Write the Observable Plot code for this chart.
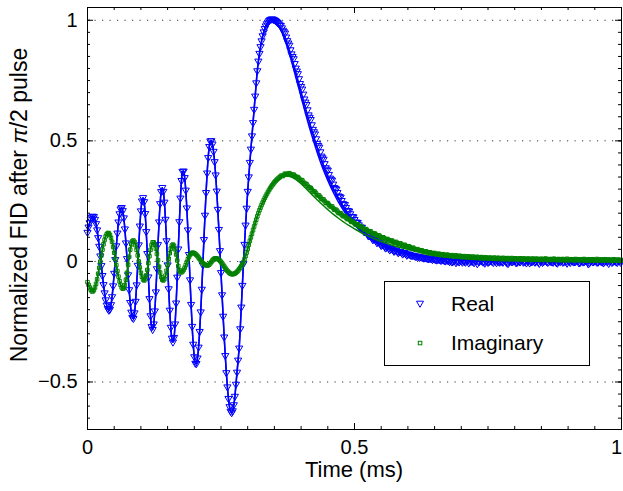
<!DOCTYPE html>
<html><head><meta charset="utf-8">
<script src="https://cdn.jsdelivr.net/npm/d3@7"></script>
<script src="https://cdn.jsdelivr.net/npm/@observablehq/plot@0.6"></script>
<style>
body{margin:0;background:#fff;}
#wrap{position:relative;width:623px;height:491px;font-family:"Liberation Sans",Arial,Helvetica,sans-serif;}
#legend{position:absolute;left:384px;top:281px;width:206px;height:85px;border:1px solid #000;background:#fff;box-sizing:border-box;}
#legend .item{position:absolute;left:0;height:30px;width:200px;}
#legend svg{position:absolute;left:25px;top:5px;}
#legend span{position:absolute;left:66px;top:2px;font-size:21px;line-height:26px;color:#000;}
</style></head>
<body>
<div id="wrap"><div id="chart"></div>
<div id="legend">
  <div class="item" style="top:7px"><svg width="20" height="20"><path d="M6.5,7.2L13.5,7.2L10,13.3Z" fill="none" stroke="#0000ff" stroke-width="1"/></svg><span>Real</span></div>
  <div class="item" style="top:46px"><svg width="20" height="20"><rect x="8.3" y="8.3" width="3.5" height="3.5" fill="none" stroke="#008000" stroke-width="1"/></svg><span>Imaginary</span></div>
</div>
</div>
<script>
// sample grid of the measured FID (ms): even samples at t0 + i*dt, odd samples half a step later
const t0 = 0, dt = 0.004;
// Real part (normalized), even samples t = 0 ... 1 ms
const realValues = [
 0.120, 0.160, 0.183, 0.185, 0.156, 0.098, 0.022,-0.059,-0.131,-0.182,
-0.203,-0.180,-0.102, 0.007, 0.117, 0.197, 0.223, 0.180, 0.076,-0.056,
-0.171,-0.233,-0.214,-0.098, 0.068, 0.209, 0.264, 0.198, 0.032,-0.155,
-0.271,-0.260,-0.127, 0.069, 0.239, 0.306, 0.245, 0.085,-0.114,-0.274,
-0.335,-0.260,-0.066, 0.164, 0.335, 0.374, 0.295, 0.130,-0.077,-0.270,
-0.396,-0.424,-0.356,-0.210,-0.015, 0.191, 0.366, 0.476, 0.500, 0.456,
 0.358, 0.215, 0.044,-0.139,-0.314,-0.462,-0.569,-0.622,-0.620,-0.560,
-0.460,-0.360,-0.190,-0.010, 0.150, 0.290, 0.410, 0.520, 0.630, 0.740,
 0.830, 0.890, 0.935, 0.965, 0.985, 0.998, 1.004, 1.003, 0.998, 0.990,
 0.980, 0.968, 0.952, 0.930, 0.905, 0.877, 0.849, 0.820, 0.789, 0.757,
 0.725, 0.693, 0.660, 0.628, 0.597, 0.566, 0.537, 0.508, 0.480, 0.454,
 0.429, 0.405, 0.382, 0.360, 0.340, 0.320, 0.302, 0.285, 0.268, 0.252,
 0.237, 0.223, 0.210, 0.197, 0.185, 0.173, 0.162, 0.151, 0.141, 0.131,
 0.122, 0.114, 0.106, 0.098, 0.091, 0.085, 0.079, 0.073, 0.068, 0.063,
 0.058, 0.054, 0.051, 0.047, 0.045, 0.041, 0.039, 0.036, 0.033, 0.031,
 0.029, 0.027, 0.024, 0.023, 0.020, 0.019, 0.018, 0.015, 0.015, 0.012,
 0.012, 0.010, 0.011, 0.007, 0.008, 0.006, 0.007, 0.003, 0.005, 0.002,
 0.004,-0.002, 0.003, 0.001,-0.003, 0.002, 0.001,-0.004, 0.003,-0.002,
 0.000,-0.006, 0.002,-0.001, 0.004,-0.003,-0.008, 0.001,-0.002, 0.003,
-0.005, 0.000, 0.002,-0.004,-0.001, 0.005,-0.003,-0.009, 0.001,-0.002,
 0.002,-0.006, 0.000, 0.003,-0.004,-0.001, 0.002,-0.007,-0.002, 0.004,
 0.000,-0.003, 0.001,-0.005, 0.002,-0.002, 0.006,-0.001,-0.004, 0.001,
-0.008, 0.000, 0.003,-0.003,-0.001, 0.002,-0.005, 0.001,-0.002, 0.004,
-0.006, 0.000,-0.003, 0.002,-0.001,-0.007, 0.003,-0.002, 0.001,-0.004,
 0.005,-0.001,-0.003, 0.000,-0.009, 0.002,-0.002, 0.001,-0.005, 0.003,
-0.001];
// Real part, odd samples t = 0.002 ... 0.998 ms
const realValuesOdd = [
 0.142, 0.175, 0.187, 0.174, 0.130, 0.062,-0.018,-0.097,-0.160,-0.196,
-0.199,-0.147,-0.050, 0.064, 0.163, 0.217, 0.210, 0.134, 0.011,-0.118,
-0.211,-0.237,-0.166,-0.017, 0.146, 0.250, 0.247, 0.123,-0.065,-0.226,
-0.283,-0.206,-0.031, 0.163, 0.289, 0.290, 0.174,-0.015,-0.203,-0.319,
-0.316,-0.173, 0.051, 0.262, 0.373, 0.347, 0.221, 0.028,-0.179,-0.344,
-0.423,-0.401,-0.291,-0.116, 0.090, 0.285, 0.430, 0.499, 0.486, 0.413,
 0.291, 0.132,-0.047,-0.228,-0.391,-0.521,-0.603,-0.628,-0.595,-0.510,
-0.410,-0.280,-0.100, 0.070, 0.220, 0.350, 0.465, 0.575, 0.685, 0.790,
 0.862, 0.914, 0.951, 0.976, 0.992, 1.002, 1.005, 1.001, 0.994, 0.985,
 0.978, 0.958, 0.946, 0.915, 0.896, 0.860, 0.840, 0.801, 0.778, 0.737,
 0.714, 0.673, 0.650, 0.607, 0.588, 0.547, 0.528, 0.489, 0.473, 0.436,
 0.423, 0.388, 0.377, 0.345, 0.336, 0.306, 0.299, 0.271, 0.266, 0.239,
 0.235, 0.211, 0.208, 0.186, 0.184, 0.162, 0.161, 0.141, 0.141, 0.122,
 0.123, 0.105, 0.107, 0.090, 0.093, 0.077, 0.081, 0.065, 0.070, 0.055,
 0.060, 0.047, 0.053, 0.041, 0.047, 0.035, 0.041, 0.030, 0.036, 0.025,
 0.030, 0.024, 0.025, 0.020, 0.021, 0.016, 0.017, 0.013, 0.014, 0.010,
 0.012, 0.007, 0.009, 0.005, 0.008, 0.003, 0.006, 0.001, 0.004,-0.001,
-0.003, 0.002,-0.006, 0.000, 0.003,-0.004,-0.001, 0.004,-0.007, 0.001,
-0.002, 0.002,-0.010,-0.001, 0.003,-0.003, 0.000,-0.005, 0.002,-0.002,
 0.004,-0.006,-0.001, 0.001,-0.004, 0.003,-0.008, 0.000,-0.002, 0.002,
-0.005, 0.001,-0.003, 0.005,-0.001,-0.007, 0.002,-0.002, 0.000,-0.004,
 0.003,-0.009, 0.001,-0.002, 0.004,-0.005, 0.000,-0.003, 0.002,-0.006,
 0.001,-0.001,-0.004, 0.003,-0.008, 0.000, 0.002,-0.003,-0.001, 0.004,
-0.006, 0.001,-0.002, 0.003,-0.011, 0.000,-0.003, 0.002,-0.004, 0.001,
-0.002,-0.007, 0.003,-0.001, 0.000,-0.005, 0.002,-0.003, 0.001,-0.004];
// Imaginary part (normalized), even samples
const imagValues = [
-0.086,-0.108,-0.124,-0.119,-0.093,-0.051,-0.001, 0.049, 0.089, 0.113,
 0.117, 0.098, 0.060, 0.011,-0.040,-0.082,-0.108,-0.111,-0.076,-0.014,
 0.049, 0.084, 0.081, 0.048, 0.000,-0.047,-0.075,-0.074,-0.035, 0.022,
 0.068, 0.079, 0.053, 0.005,-0.046,-0.076,-0.073,-0.039, 0.011, 0.053,
 0.070, 0.050, 0.004,-0.037,-0.045,-0.035,-0.015, 0.009, 0.027, 0.036,
 0.034, 0.027, 0.016, 0.004,-0.007,-0.014,-0.017,-0.013,-0.002, 0.009,
 0.013, 0.010, 0.003,-0.008,-0.021,-0.034,-0.044,-0.051,-0.053,-0.050,
-0.043,-0.032,-0.019,-0.003, 0.022, 0.052, 0.085, 0.115, 0.145, 0.173,
 0.200, 0.223, 0.244, 0.263, 0.280, 0.296, 0.310, 0.322, 0.333, 0.342,
 0.349, 0.355, 0.359, 0.362, 0.363, 0.362, 0.359, 0.355, 0.350, 0.344,
 0.337, 0.330, 0.322, 0.314, 0.306, 0.298, 0.290, 0.282, 0.274, 0.266,
 0.258, 0.250, 0.242, 0.235, 0.228, 0.221, 0.214, 0.207, 0.200, 0.194,
 0.188, 0.182, 0.176, 0.170, 0.164, 0.158, 0.153, 0.148, 0.143, 0.138,
 0.133, 0.128, 0.124, 0.119, 0.115, 0.111, 0.107, 0.103, 0.099, 0.095,
 0.092, 0.088, 0.085, 0.082, 0.079, 0.076, 0.073, 0.070, 0.067, 0.064,
 0.061, 0.058, 0.055, 0.052, 0.049, 0.047, 0.044, 0.042, 0.040, 0.038,
 0.036, 0.033, 0.034, 0.030, 0.031, 0.027, 0.029, 0.025, 0.027, 0.024,
 0.025, 0.022, 0.024, 0.020, 0.023, 0.019, 0.021, 0.018, 0.020, 0.017,
 0.019, 0.016, 0.018, 0.015, 0.017, 0.014, 0.016, 0.013, 0.015, 0.013,
 0.014, 0.011, 0.014, 0.012, 0.013, 0.010, 0.013, 0.011, 0.012, 0.010,
 0.012, 0.009, 0.011, 0.010, 0.012, 0.008, 0.011, 0.009, 0.010, 0.008,
 0.011, 0.008, 0.010, 0.007, 0.010, 0.008, 0.009, 0.007, 0.010, 0.008,
 0.009, 0.006, 0.009, 0.007, 0.008, 0.006, 0.009, 0.007, 0.008, 0.005,
 0.008, 0.006, 0.009, 0.006, 0.007, 0.005, 0.008, 0.006, 0.007, 0.005,
 0.007, 0.005, 0.008, 0.006, 0.007, 0.004, 0.007, 0.005, 0.006, 0.004,
 0.006];
// Imaginary part, odd samples
const imagValuesOdd = [
-0.097,-0.117,-0.124,-0.108,-0.074,-0.027, 0.025, 0.071, 0.104, 0.118,
 0.110, 0.081, 0.036,-0.015,-0.063,-0.097,-0.113,-0.098,-0.047, 0.019,
 0.071, 0.087, 0.067, 0.025,-0.025,-0.064,-0.079,-0.058,-0.007, 0.048,
 0.079, 0.070, 0.031,-0.022,-0.065,-0.079,-0.059,-0.015, 0.034, 0.066,
 0.065, 0.029,-0.019,-0.045,-0.041,-0.026,-0.003, 0.019, 0.033, 0.036,
 0.031, 0.022, 0.010,-0.001,-0.011,-0.016,-0.016,-0.008, 0.004, 0.012,
 0.012, 0.007,-0.002,-0.014,-0.027,-0.039,-0.048,-0.053,-0.052,-0.047,
-0.038,-0.026,-0.012, 0.009, 0.037, 0.069, 0.100, 0.130, 0.159, 0.187,
 0.212, 0.234, 0.254, 0.272, 0.288, 0.303, 0.316, 0.328, 0.338, 0.346,
 0.355, 0.354, 0.364, 0.360, 0.366, 0.358, 0.360, 0.350, 0.350, 0.338,
 0.337, 0.323, 0.321, 0.307, 0.305, 0.291, 0.289, 0.275, 0.273, 0.259,
 0.257, 0.243, 0.242, 0.229, 0.228, 0.215, 0.214, 0.201, 0.200, 0.188,
 0.188, 0.176, 0.176, 0.164, 0.164, 0.153, 0.154, 0.143, 0.144, 0.133,
 0.134, 0.123, 0.125, 0.114, 0.116, 0.106, 0.108, 0.098, 0.100, 0.091,
 0.093, 0.084, 0.087, 0.078, 0.081, 0.072, 0.075, 0.066, 0.069, 0.060,
 0.063, 0.054, 0.057, 0.048, 0.051, 0.043, 0.046, 0.038, 0.042, 0.034,
 0.038, 0.031, 0.035, 0.029, 0.032, 0.026, 0.030, 0.024, 0.028, 0.022,
 0.026, 0.020, 0.025, 0.019, 0.023, 0.017, 0.022, 0.016, 0.021, 0.015,
 0.020, 0.014, 0.019, 0.013, 0.018, 0.012, 0.017, 0.012, 0.016, 0.011,
 0.016, 0.010, 0.015, 0.009, 0.015, 0.009, 0.014, 0.008, 0.014, 0.009,
 0.013, 0.008, 0.013, 0.007, 0.012, 0.008, 0.012, 0.006, 0.012, 0.007,
 0.011, 0.006, 0.011, 0.006, 0.012, 0.005, 0.010, 0.006, 0.011, 0.005,
 0.010, 0.005, 0.010, 0.004, 0.011, 0.005, 0.009, 0.004, 0.010, 0.005,
 0.009, 0.004, 0.010, 0.003, 0.009, 0.004, 0.009, 0.003, 0.010, 0.004,
 0.008, 0.003, 0.009, 0.004, 0.008, 0.002, 0.009, 0.003, 0.008, 0.003];
// Fitted curves after the main peak
const fitTimes = [0.35,0.36,0.37,0.38,0.39,0.40,0.41,0.42,0.43,0.44,0.45,0.46,0.47,0.48,0.49,0.50,0.52,0.54,0.56,0.58,0.60,0.63,0.66,0.70,0.75,0.80,0.85,0.90,0.95,1.00];
const realFitA = [1.000,0.975,0.930,0.862,0.785,0.703,0.622,0.545,0.474,0.410,0.354,0.304,0.261,0.223,0.190,0.161,0.118,0.086,0.063,0.046,0.033,0.020,0.012,0.006,0.003,0.001,0,0,0,0];
const realFitB = [0.998,0.968,0.915,0.845,0.765,0.682,0.600,0.523,0.453,0.390,0.336,0.288,0.246,0.210,0.178,0.151,0.110,0.080,0.058,0.042,0.030,0.018,0.011,0.005,0.002,0.001,0,0,0,0];
const imagFitA = [0.328,0.349,0.361,0.362,0.352,0.337,0.318,0.298,0.278,0.258,0.238,0.221,0.203,0.188,0.173,0.158,0.132,0.110,0.091,0.075,0.061,0.045,0.033,0.022,0.014,0.010,0.008,0.007,0.006,0.005];
const imagFitB = [0.326,0.345,0.354,0.352,0.340,0.322,0.300,0.278,0.256,0.235,0.215,0.196,0.179,0.163,0.148,0.135,0.111,0.091,0.075,0.061,0.050,0.037,0.027,0.018,0.012,0.009,0.007,0.006,0.005,0.005];
// axes
const xTicks = [0, 0.5, 1];
const xTickLabels = ["0", "0.5", "1"];
const yTicks = [-0.5, 0, 0.5, 1];
const yTickLabels = ["\u22120.5", "0", "0.5", "1"];
const xMinor = d3.range(0, 1.0001, 0.05).map(v => +v.toFixed(2));
const yMinor = d3.range(-0.65, 1.0001, 0.05).map(v => +v.toFixed(2));

const toPts = (vals, off) => vals.map((v, i) => ({t: +(t0 + off + i * dt).toFixed(3), v}));
const real = toPts(realValues, 0).concat(toPts(realValuesOdd, dt / 2)).sort((a, b) => a.t - b.t);
const imag = toPts(imagValues, 0).concat(toPts(imagValuesOdd, dt / 2)).sort((a, b) => a.t - b.t);
const cut = 0.35;
const joined = (data, fit) => data.filter(d => d.t < cut).concat(fitTimes.map((t, i) => ({t, v: fit[i]})));

const triDown = {draw(ctx, size) {
  const r = Math.sqrt(size / Math.PI);
  ctx.moveTo(-r, -r * 0.6); ctx.lineTo(r, -r * 0.6); ctx.lineTo(0, r * 1.1); ctx.closePath();
}};

const W = 623, H = 491, mT = 7, mB = 62, mL = 87, mR = 2;
const ph = H - mT - mB, pw = W - mL - mR;
const minorLen = 3, majorLen = 6;
const blue = "#0000ff", green = "#008000";

const chart = Plot.plot({
  width: W, height: H,
  marginTop: mT, marginBottom: mB, marginLeft: mL, marginRight: mR,
  x: {domain: [0, 1]},
  y: {domain: [-0.697, 1.053]},
  style: {fontFamily: '"Liberation Sans", Arial, Helvetica, sans-serif', fontSize: "20px", color: "#000", background: "#fff", overflow: "visible"},
  marks: [
    Plot.ruleY(yTicks, {stroke: "#333", strokeWidth: 1, strokeDasharray: "1.2,6.3"}),
    Plot.tickX(xMinor, {x: d => d, stroke: "#000", insetTop: ph - minorLen}),
    Plot.tickX(xMinor, {x: d => d, stroke: "#000", insetBottom: ph - minorLen}),
    Plot.tickX(xTicks, {x: d => d, stroke: "#000", insetTop: ph - majorLen}),
    Plot.tickX(xTicks, {x: d => d, stroke: "#000", insetBottom: ph - majorLen}),
    Plot.tickY(yMinor, {y: d => d, stroke: "#000", insetRight: pw - minorLen}),
    Plot.tickY(yMinor, {y: d => d, stroke: "#000", insetLeft: pw - minorLen}),
    Plot.tickY(yTicks, {y: d => d, stroke: "#000", insetRight: pw - majorLen}),
    Plot.tickY(yTicks, {y: d => d, stroke: "#000", insetLeft: pw - majorLen}),
    Plot.dot(real, {x: "t", y: "v", r: 3.6, symbol: triDown, stroke: blue, fill: "none", strokeWidth: 1}),
    Plot.line(joined(real, realFitB), {x: "t", y: "v", stroke: blue, strokeWidth: 1.5, curve: "catmull-rom"}),
    Plot.line(joined(real, realFitA), {x: "t", y: "v", stroke: blue, strokeWidth: 1.5, curve: "catmull-rom"}),
    Plot.dot(imag, {x: "t", y: "v", r: 2, symbol: "square", stroke: green, fill: "none", strokeWidth: 1}),
    Plot.line(joined(imag, imagFitB), {x: "t", y: "v", stroke: green, strokeWidth: 1.5, curve: "catmull-rom"}),
    Plot.line(joined(imag, imagFitA), {x: "t", y: "v", stroke: green, strokeWidth: 1.5, curve: "catmull-rom"}),
    Plot.frame({stroke: "#000", strokeWidth: 1}),
    Plot.axisX(xTicks, {tickSize: 0, tickPadding: 10, fontSize: 20, tickFormat: d => xTickLabels[xTicks.indexOf(d)], label: null}),
    Plot.axisY(yTicks, {tickSize: 0, tickPadding: 10, fontSize: 20, tickFormat: d => yTickLabels[yTicks.indexOf(d)], label: null})
  ]
});
document.getElementById("chart").appendChild(chart);

const svg = d3.select(chart);
svg.selectAll('g[aria-label="x-axis tick label"] text')
  .filter(function() { return this.textContent === "1"; })
  .attr("dx", -5);
svg.append("text")
  .attr("x", mL + pw / 2).attr("y", 477)
  .attr("text-anchor", "middle")
  .attr("font-size", 22).attr("fill", "#000")
  .text("Time (ms)");
const yl = svg.append("text")
  .attr("transform", "translate(27,205) rotate(-90)")
  .attr("text-anchor", "middle")
  .attr("font-size", 23).attr("fill", "#000");
yl.append("tspan").text("Normalized FID after ");
yl.append("tspan").attr("font-style", "italic").text("\u03c0");
yl.append("tspan").text("/2 pulse");
</script>
</body></html>
